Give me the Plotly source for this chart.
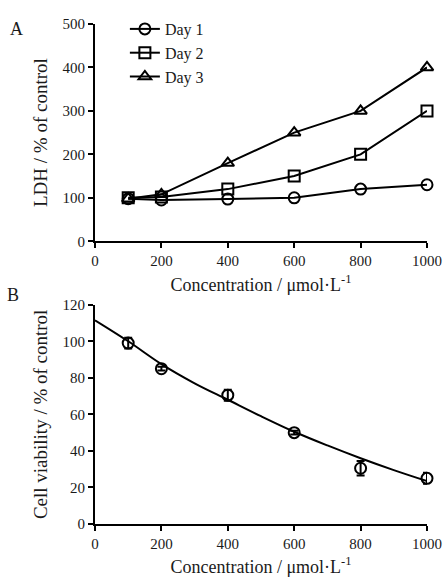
import plotly.graph_objects as go
from plotly.subplots import make_subplots

conc = [100, 200, 400, 600, 800, 1000]
day1 = [98, 95, 97, 100, 120, 130]
day2 = [100, 102, 120, 150, 200, 300]
day3 = [98, 108, 180, 250, 300, 400]

via_x = [100, 200, 400, 600, 800, 1000]
via_y = [99, 85, 70.5, 50, 30.5, 25]
via_err = [3, 1, 3, 1, 4, 3]

fit_x = [0, 100, 200, 300, 400, 500, 600, 700, 800, 900, 1000]
fit_y = [111.5, 100, 87.5, 77, 68, 59, 50.5, 43, 36, 29.5, 23.5]

xticks = [0, 200, 400, 600, 800, 1000]

FONT = "Liberation Serif"
TXT = "#1a1a1a"
fig = make_subplots(rows=2, cols=1)

for name, vals, sym in [("Day 1", day1, "circle-open"),
                        ("Day 2", day2, "square-open"),
                        ("Day 3", day3, "triangle-up-open")]:
    fig.add_trace(go.Scatter(x=conc, y=vals, name=name, mode="lines+markers",
                             line=dict(color="black", width=2),
                             marker=dict(symbol=sym, size=11, color="black",
                                         line=dict(width=2, color="black")),
                             cliponaxis=False), row=1, col=1)

fig.add_trace(go.Scatter(x=fit_x, y=fit_y, mode="lines", showlegend=False,
                         line=dict(color="black", width=2, shape="spline"),
                         cliponaxis=False), row=2, col=1)
fig.add_trace(go.Scatter(x=via_x, y=via_y, mode="markers", showlegend=False,
                         marker=dict(symbol="circle-open", size=11, color="black",
                                     line=dict(width=2, color="black")),
                         error_y=dict(type="data", array=via_err, color="black",
                                      thickness=2, width=4),
                         cliponaxis=False), row=2, col=1)

axis_common = dict(showline=True, linecolor="black", linewidth=2, ticks="outside",
                   ticklen=5, tickwidth=2, tickcolor="black", showgrid=False,
                   zeroline=False, automargin=False,
                   tickfont=dict(family=FONT, size=15, color=TXT))

fig.update_xaxes(**axis_common, range=[0, 1000], tickvals=xticks,
                 title=dict(text="Concentration / μmol·L<sup>-1</sup>",
                            font=dict(family=FONT, size=18, color=TXT), standoff=10))
fig.update_yaxes(**axis_common)
fig.update_yaxes(range=[0, 500], dtick=100, row=1, col=1, domain=[0.5655, 1.0],
                 title=dict(text="LDH / % of control",
                            font=dict(family=FONT, size=19, color=TXT), standoff=10))
fig.update_yaxes(range=[0, 120], dtick=20, row=2, col=1, domain=[0.0, 0.4385],
                 title=dict(text="Cell viability / % of control",
                            font=dict(family=FONT, size=19, color=TXT), standoff=10))

pw, ph = 443 - 95 - 16, 577 - 20 - 53


def ann(text, px, py):
    return dict(text=text, x=(px - 95) / pw, y=(577 - 53 - py) / ph,
                xref="paper", yref="paper", showarrow=False,
                xanchor="center", yanchor="middle",
                font=dict(family=FONT, size=18, color=TXT))


fig.update_layout(
    width=443, height=577,
    margin=dict(l=95, r=16, t=20, b=53),
    paper_bgcolor="white", plot_bgcolor="white",
    font=dict(family=FONT, color=TXT),
    legend=dict(x=0.09, y=1.024, xanchor="left", yanchor="top",
                font=dict(family=FONT, size=16, color=TXT),
                bgcolor="rgba(0,0,0,0)", tracegroupgap=0, itemwidth=30),
    annotations=[ann("A", 16, 25), ann("B", 13, 293)],
)

fig.write_html("out.html")
